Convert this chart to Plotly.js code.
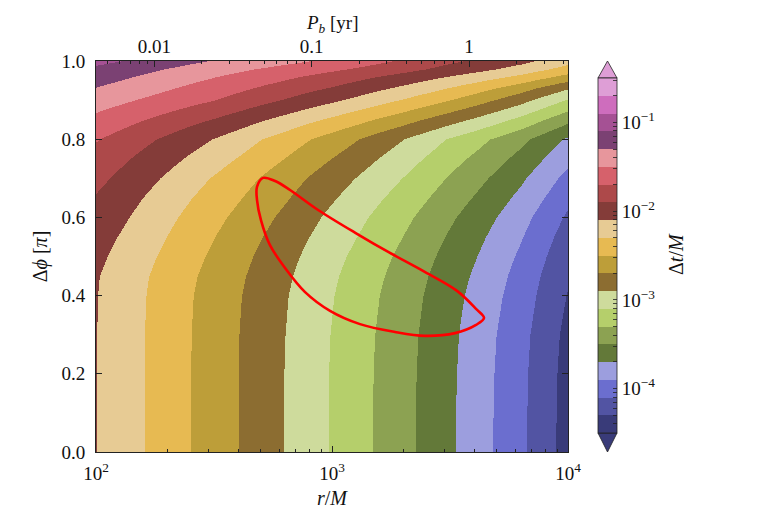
<!DOCTYPE html>
<html><head><meta charset="utf-8">
<script src="https://cdn.plot.ly/plotly-3.0.1.min.js"></script>
<style>body{margin:0;background:#fff}</style>
</head><body>
<div id="chart" style="width:763px;height:509px"></div>
<script>
// r/M grid (log-spaced columns) and Δφ [π] rows
const rGrid = [100, 125.9, 158.5, 199.5, 251.2, 316.2, 398.1, 501.2, 631.0, 794.3, 1000, 1258.9, 1584.9, 1995.3, 2511.9, 3162.3, 3981.1, 5011.9, 6309.6, 7943.3, 10000];
const dphiGrid = [0, 0.1, 0.2, 0.3, 0.4, 0.45, 0.5, 0.55, 0.6, 0.65, 0.7, 0.75, 0.8, 0.85, 0.9, 0.93, 0.96, 0.98, 1.0];
// log10(Δt/M), one row per Δφ value
const logDt = [
 [-2.097,-2.196,-2.295,-2.396,-2.497,-2.598,-2.700,-2.803,-2.906,-3.012,-3.117,-3.223,-3.330,-3.439,-3.552,-3.671,-3.795,-3.923,-4.061,-4.219,-4.384],
 [-2.097,-2.196,-2.295,-2.396,-2.497,-2.598,-2.700,-2.803,-2.906,-3.012,-3.117,-3.223,-3.330,-3.439,-3.552,-3.671,-3.795,-3.922,-4.060,-4.217,-4.382],
 [-2.097,-2.196,-2.295,-2.396,-2.497,-2.598,-2.700,-2.802,-2.905,-3.010,-3.115,-3.221,-3.327,-3.436,-3.548,-3.667,-3.790,-3.917,-4.055,-4.212,-4.376],
 [-2.097,-2.195,-2.294,-2.394,-2.495,-2.595,-2.696,-2.798,-2.900,-3.005,-3.109,-3.214,-3.320,-3.427,-3.539,-3.657,-3.779,-3.905,-4.040,-4.196,-4.359],
 [-2.094,-2.191,-2.288,-2.388,-2.487,-2.586,-2.685,-2.786,-2.886,-2.990,-3.092,-3.195,-3.299,-3.405,-3.515,-3.631,-3.749,-3.871,-4.003,-4.155,-4.314],
 [-2.087,-2.182,-2.277,-2.374,-2.471,-2.568,-2.667,-2.767,-2.867,-2.970,-3.072,-3.174,-3.277,-3.382,-3.491,-3.606,-3.723,-3.844,-3.975,-4.126,-4.284],
 [-2.057,-2.152,-2.247,-2.344,-2.441,-2.538,-2.637,-2.737,-2.837,-2.940,-3.042,-3.143,-3.245,-3.349,-3.457,-3.571,-3.687,-3.807,-3.937,-4.087,-4.244],
 [-2.017,-2.112,-2.207,-2.304,-2.401,-2.498,-2.596,-2.695,-2.794,-2.896,-2.997,-3.098,-3.200,-3.304,-3.412,-3.526,-3.641,-3.760,-3.889,-4.038,-4.194],
 [-1.967,-2.062,-2.157,-2.254,-2.351,-2.448,-2.546,-2.645,-2.744,-2.846,-2.947,-3.047,-3.148,-3.251,-3.358,-3.471,-3.585,-3.703,-3.831,-3.979,-4.134],
 [-1.917,-2.010,-2.103,-2.198,-2.293,-2.388,-2.485,-2.583,-2.681,-2.782,-2.882,-2.981,-3.081,-3.183,-3.289,-3.401,-3.513,-3.629,-3.755,-3.901,-4.054],
 [-1.847,-1.940,-2.033,-2.128,-2.223,-2.318,-2.414,-2.511,-2.608,-2.708,-2.807,-2.905,-3.004,-3.105,-3.210,-3.321,-3.431,-3.545,-3.669,-3.813,-3.964],
 [-1.777,-1.864,-1.951,-2.040,-2.129,-2.218,-2.314,-2.411,-2.508,-2.608,-2.707,-2.807,-2.908,-3.011,-3.118,-3.231,-3.337,-3.447,-3.567,-3.707,-3.854],
 [-1.687,-1.770,-1.853,-1.938,-2.023,-2.108,-2.202,-2.297,-2.392,-2.490,-2.587,-2.689,-2.792,-2.897,-3.006,-3.121,-3.225,-3.333,-3.451,-3.589,-3.734],
 [-1.557,-1.628,-1.699,-1.772,-1.845,-1.918,-2.002,-2.087,-2.172,-2.260,-2.347,-2.439,-2.532,-2.627,-2.726,-2.831,-2.937,-3.047,-3.167,-3.307,-3.454],
 [-1.407,-1.464,-1.521,-1.580,-1.639,-1.698,-1.770,-1.843,-1.916,-1.992,-2.067,-2.149,-2.232,-2.317,-2.406,-2.501,-2.607,-2.717,-2.837,-2.977,-3.124],
 [-1.307,-1.364,-1.421,-1.480,-1.539,-1.598,-1.660,-1.723,-1.786,-1.852,-1.917,-1.991,-2.066,-2.143,-2.224,-2.311,-2.407,-2.507,-2.617,-2.747,-2.884],
 [-1.217,-1.272,-1.327,-1.384,-1.441,-1.498,-1.554,-1.611,-1.668,-1.728,-1.787,-1.849,-1.912,-1.977,-2.046,-2.121,-2.195,-2.273,-2.361,-2.469,-2.584],
 [-1.147,-1.200,-1.253,-1.308,-1.363,-1.418,-1.466,-1.515,-1.564,-1.616,-1.667,-1.723,-1.780,-1.839,-1.902,-1.971,-2.035,-2.103,-2.181,-2.279,-2.384],
 [-1.047,-1.100,-1.153,-1.208,-1.263,-1.318,-1.362,-1.407,-1.452,-1.500,-1.547,-1.607,-1.668,-1.731,-1.798,-1.871,-1.925,-1.983,-2.051,-2.139,-2.234]
];
// red closed curve
const curveR   = [510, 481, 481, 500, 546, 632, 769, 981, 1314, 1849, 2478, 3320, 4076, 4407, 4076, 3386, 2430, 1761, 1276, 873, 664, 574, 510];
const curvePhi = [0.701, 0.678, 0.645, 0.593, 0.529, 0.471, 0.409, 0.361, 0.327, 0.307, 0.297, 0.304, 0.325, 0.343, 0.366, 0.412, 0.463, 0.509, 0.558, 0.619, 0.670, 0.693, 0.701];
// colour levels (tab20b), 5 per decade of Δt/M
const levelColors = ['#393b79','#5254a3','#6b6ecf','#9c9ede','#637939','#8ca252','#b5cf6b','#cedb9c',
  '#8c6d31','#bd9e39','#e7ba52','#e7cb94','#843c39','#ad494a','#d6616b','#e7969c','#7b4173','#a55194','#ce6dbd','#de9ed6'];
const zLow = -4.5, zHigh = -0.5;
const cbTickVals = [-4, -3, -2, -1];
const cbTickText = ['10<sup>−4</sup>','10<sup>−3</sup>','10<sup>−2</sup>','10<sup>−1</sup>'];
const rTickVals = [100, 1000, 10000];
const rTickText = ['10<sup>2</sup>','10<sup>3</sup>','10<sup>4</sup>'];
const rMinor = [200,300,400,500,600,700,800,900,2000,3000,4000,5000,6000,7000,8000,9000];
const pbTickVals = [0.01, 0.1, 1];
const pbTickText = ['0.01','0.1','1'];
const pbMinor = [0.005,0.006,0.007,0.008,0.009,0.02,0.03,0.04,0.05,0.06,0.07,0.08,0.09,0.2,0.3,0.4,0.5,0.6,0.7,0.8,0.9,2,3,4];
const yTickVals = [0, 0.2, 0.4, 0.6, 0.8, 1.0];
const rRange = [100, 10000];
// orbital period of a circular orbit around Sgr A* (M ≈ 4.34e6 Msun)
const massSun = 4.34e6, tSun = 4.925491e-6, year = 3.15576e7;
const pb = r => 2*Math.PI*Math.pow(r,1.5)*massSun*tSun/year;

const font = 'Liberation Serif, DejaVu Serif, serif';
const n = levelColors.length;
const cs = [];
levelColors.forEach((c,i)=>{ cs.push([i/n, c]); cs.push([(i+1)/n, c]); });

// colourbar ticks: labelled decades plus unlabelled minor ticks
const cbVals = [], cbText = [];
for (let d=-5; d<=-1; d++) for (let k=1; k<=9; k++) {
  const v = d + Math.log10(k);
  if (v < zLow || v > zHigh) continue;
  cbVals.push(v);
  const idx = cbTickVals.indexOf(v);
  cbText.push(k===1 && idx>=0 ? cbTickText[idx] : '');
}

const traces = [
 {type:'heatmap', x:rGrid, y:dphiGrid, z:logDt, zsmooth:'best', zmin:zLow, zmax:zHigh,
  colorscale:cs, hoverinfo:'skip',
  colorbar:{x:1.0636, xanchor:'left', xpad:0, y:0.5026, yanchor:'middle', ypad:0,
    len:355, lenmode:'pixels', thickness:19, thicknessmode:'pixels',
    outlinewidth:0.8, outlinecolor:'#222',
    tickmode:'array', tickvals:cbVals, ticktext:cbText,
    ticks:'inside', ticklen:4, tickwidth:0.8, tickcolor:'#222',
    tickfont:{family:font, size:19, color:'#111'}}},
 {type:'scatter', mode:'lines', x:curveR, y:curvePhi, line:{color:'#ff0000', width:2.6, shape:'spline', smoothing:1}, hoverinfo:'skip', showlegend:false},
 // carrier for the top P_b axis (range derived from r via Kepler's law)
 {type:'scatter', mode:'markers', x:rRange.map(pb), y:[0,0], xaxis:'x2', yaxis:'y', marker:{opacity:0}, hoverinfo:'skip', showlegend:false}
];

// colourbar extension arrows (paper coords from the colourbar geometry)
const pxX = px => (px-96)/472, pxY = py => (452-py)/391;
const cbLeft = 598, cbRight = 617, cbTop = 78, cbBot = 433;
const shapes = [
 {type:'path', xref:'paper', yref:'paper', path:`M ${pxX(cbLeft)} ${pxY(cbTop)} L ${pxX(cbRight)} ${pxY(cbTop)} L ${pxX((cbLeft+cbRight)/2)} ${pxY(61)} Z`, fillcolor:levelColors[n-1], line:{color:'#222', width:0.8}},
 {type:'path', xref:'paper', yref:'paper', path:`M ${pxX(cbLeft)} ${pxY(cbBot)} L ${pxX(cbRight)} ${pxY(cbBot)} L ${pxX((cbLeft+cbRight)/2)} ${pxY(452)} Z`, fillcolor:levelColors[0], line:{color:'#222', width:0.8}}
];

const layout = {
 width:763, height:509, margin:{l:96, r:195, t:61, b:57},
 paper_bgcolor:'#fff', plot_bgcolor:'#fff', showlegend:false,
 font:{family:font, size:19, color:'#111'},
 xaxis:{type:'log', range:[Math.log10(rRange[0]), Math.log10(rRange[1])], tickmode:'array', tickvals:rTickVals, ticktext:rTickText,
   ticks:'inside', ticklen:6, tickcolor:'#222', showline:true, linecolor:'#222', linewidth:1, mirror:true, showgrid:false, zeroline:false,
   minor:{tickmode:'array', tickvals:rMinor, ticks:'inside', ticklen:3, tickcolor:'#222', showgrid:false},
   tickfont:{family:font, size:19}, ticklabelstandoff:4,
   title:{text:'<i>r</i>/<i>M</i>', font:{family:font, size:20}, standoff:12}},
 xaxis2:{type:'log', overlaying:'x', side:'top', anchor:'y', range:[Math.log10(pb(rRange[0])), Math.log10(pb(rRange[1]))],
   tickmode:'array', tickvals:pbTickVals, ticktext:pbTickText, ticks:'inside', ticklen:6, tickcolor:'#222', showgrid:false, zeroline:false,
   minor:{tickmode:'array', tickvals:pbMinor, ticks:'inside', ticklen:3, tickcolor:'#222', showgrid:false},
   tickfont:{family:font, size:19}, ticklabelstandoff:3},
 yaxis:{range:[0,1], tickmode:'array', tickvals:yTickVals, tickformat:'.1f', ticks:'inside', ticklen:6, tickcolor:'#222',
   showline:true, linecolor:'#222', linewidth:1, mirror:'ticks', showgrid:false, zeroline:false,
   tickfont:{family:font, size:19}, ticklabelstandoff:6,
   title:{text:'Δ<i>ϕ</i> [<i>π</i>]', font:{family:font, size:20}, standoff:8}},
 shapes:shapes,
 annotations:[
  {xref:'paper', yref:'paper', x:pxX(676), y:pxY(254), text:'Δ<i>t</i>/<i>M</i>', textangle:-90, showarrow:false,
   font:{family:font, size:20, color:'#111'}, xanchor:'center', yanchor:'middle'},
  {xref:'paper', yref:'paper', x:0.5, y:pxY(24), text:'<i>P</i><sub><i>b</i></sub> [yr]', showarrow:false,
   font:{family:font, size:19, color:'#111'}, xanchor:'center', yanchor:'middle'}
 ]
};
Plotly.newPlot('chart', traces, layout, {staticPlot:true, displayModeBar:false});
</script>
</body></html>
